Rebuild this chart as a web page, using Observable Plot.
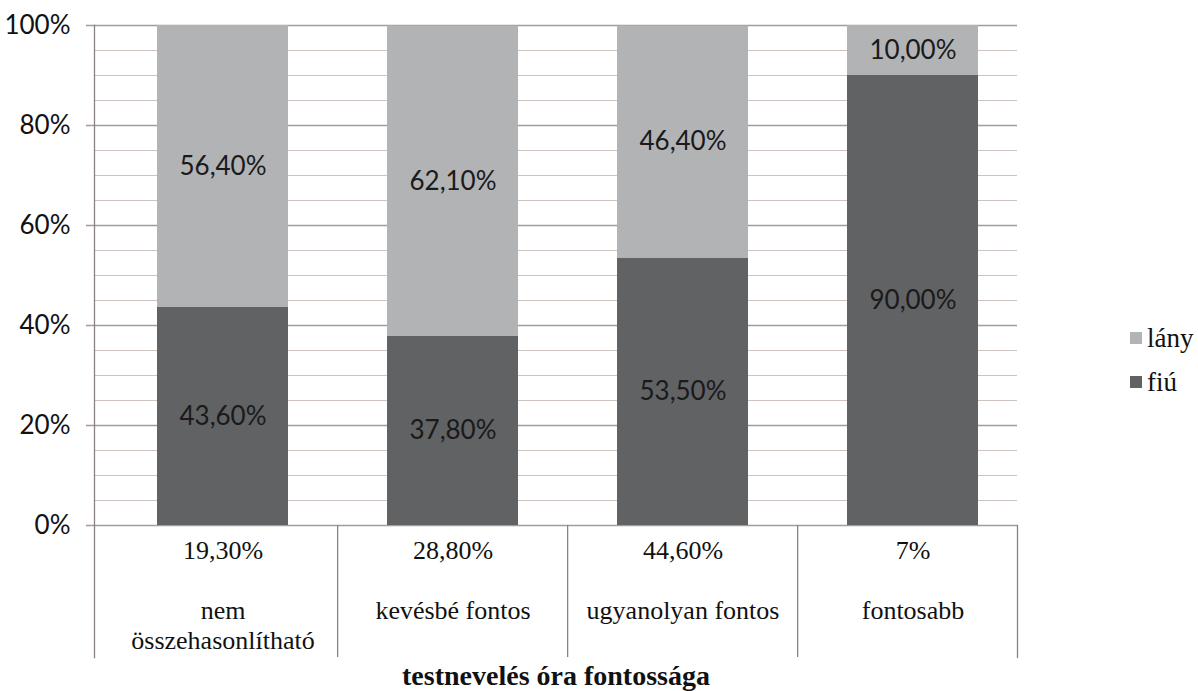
<!DOCTYPE html>
<html>
<head>
<meta charset="utf-8">
<script src="https://cdn.jsdelivr.net/npm/d3@7"></script>
<script src="https://cdn.jsdelivr.net/npm/@observablehq/plot@0.6"></script>
<style>
  body { margin: 0; background: #fff; }
  #wrap { position: relative; width: 1198px; height: 691px; }
  #legend { position: absolute; left: 1130px; top: 316px; font-family: "Liberation Serif", serif; font-size: 27px; color: #111; }
  #legend div { display: flex; align-items: center; height: 44px; }
  #legend span.sw { display: inline-block; width: 12px; height: 12px; margin-right: 5px; }
</style>
</head>
<body>
<div id="wrap"></div>
<script>
const categories = ["nem összehasonlítható", "kevésbé fontos", "ugyanolyan fontos", "fontosabb"];
const categoryLines = ["nem\nösszehasonlítható", "kevésbé fontos", "ugyanolyan fontos", "fontosabb"];
const shares = ["19,30%", "28,80%", "44,60%", "7%"];
const fiu = [43.6, 37.8, 53.5, 90.0];
const lany = [56.4, 62.1, 46.4, 10.0];
const seriesNames = ["fiú", "lány"];
const seriesColors = ["#616264", "#b2b3b5"];
const majorTicks = [0, 20, 40, 60, 80, 100];
const minorTicks = [5, 10, 15, 25, 30, 35, 45, 50, 55, 65, 70, 75, 85, 90, 95];
const axisTitle = "testnevelés óra fontossága";

const rows = [];
categories.forEach((c, i) => {
  rows.push({cat: c, series: "fiú", value: fiu[i]});
  rows.push({cat: c, series: "lány", value: lany[i]});
});
const fmt = v => v.toFixed(2).replace(".", ",") + "%";

const W = 1198, H = 691;
const mL = 94, mR = 181, mT = 25, mB = 166;
const shift = 12;
const step = (W - mL - mR) / categories.length;
const plotH = H - mT - mB;
const tableDepth = 132;
const sans = "Lato, 'Open Sans', sans-serif";
const serif = "'Liberation Serif', 'Times New Roman', serif";
const borderStyle = {stroke: "#8a8280", strokeWidth: 1.3};

const chart = Plot.plot({
  width: W, height: H,
  marginLeft: mL, marginRight: mR, marginTop: mT, marginBottom: mB,
  style: {background: "#fff", overflow: "visible"},
  x: {domain: categories, range: [mL + shift, W - mR + shift], paddingInner: 0.43, paddingOuter: 0.215, axis: null},
  y: {domain: [0, 100], axis: null},
  color: {domain: seriesNames, range: seriesColors},
  marks: [
    Plot.ruleY(minorTicks, {stroke: "#cdc4c0", strokeWidth: 1.2}),
    Plot.ruleY(majorTicks, {stroke: "#a59c98", strokeWidth: 1.4, insetLeft: -8}),
    Plot.axisY(majorTicks, {label: null, tickSize: 0, tickPadding: 24, tickFormat: d => d + "%", fontSize: 26, fontFamily: sans, fill: "#111"}),
    Plot.barY(rows, Plot.stackY({x: "cat", y: "value", fill: "series", order: seriesNames})),
    Plot.text(rows, Plot.stackY({x: "cat", y: "value", z: "series", order: seriesNames, text: d => fmt(d.value), fontSize: 26, fontFamily: sans, fill: "#1a1a1a"})),
    // left axis line + table borders
    Plot.frame({anchor: "left", ...borderStyle, insetBottom: -tableDepth}),
    Plot.ruleX(categories.slice(1), {x: d => d, dx: -step / 2, ...borderStyle, insetTop: plotH, insetBottom: -tableDepth}),
    Plot.frame({anchor: "right", ...borderStyle, insetTop: plotH, insetBottom: -tableDepth}),
    // table rows
    Plot.text(categories, {x: d => d, text: (d, i) => shares[i], frameAnchor: "bottom", dy: 33, fontSize: 26, fontFamily: serif, fill: "#111"}),
    Plot.text(categories, {x: d => d, text: (d, i) => categoryLines[i], frameAnchor: "bottom", lineAnchor: "top", dy: 72, lineHeight: 1.15, fontSize: 26, fontFamily: serif, fill: "#111"}),
    Plot.text([axisTitle], {text: d => d, frameAnchor: "bottom", dy: 159, fontSize: 28, fontWeight: "bold", fontFamily: serif, fill: "#111"})
  ]
});

const wrap = document.getElementById("wrap");
wrap.appendChild(chart);
const legend = document.createElement("div");
legend.id = "legend";
[["lány", seriesColors[1]], ["fiú", seriesColors[0]]].forEach(([name, col]) => {
  const row = document.createElement("div");
  const sw = document.createElement("span");
  sw.className = "sw";
  sw.style.background = col;
  row.appendChild(sw);
  row.appendChild(document.createTextNode(name));
  legend.appendChild(row);
});
wrap.appendChild(legend);
</script>
</body>
</html>
